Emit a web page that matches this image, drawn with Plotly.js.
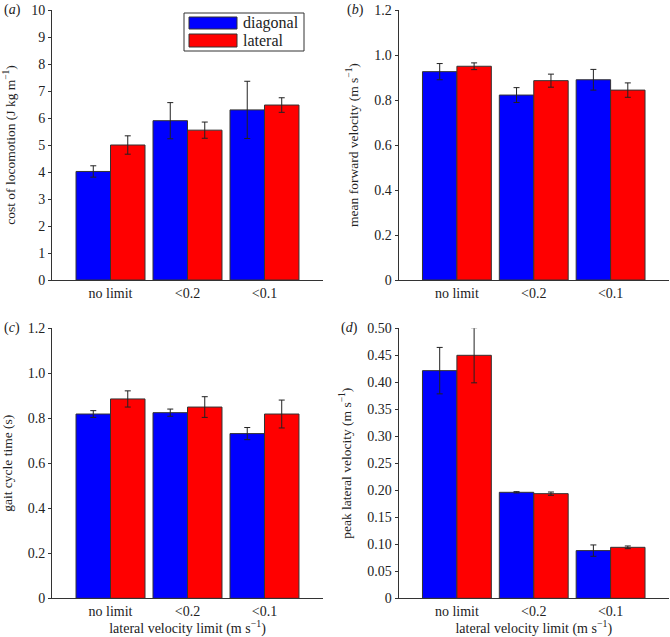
<!DOCTYPE html>
<html>
<head>
<meta charset="utf-8">
<script src="https://cdn.plot.ly/plotly-3.0.1.min.js"></script>
<style>html,body{margin:0;padding:0;background:#fff;}#chart{width:670px;height:637px;}</style>
</head>
<body>
<div id="chart"></div>
<script>
// ---- data ----
const categories = ['no limit', '<0.2', '<0.1'];
const seriesNames = ['diagonal', 'lateral'];

const costDiagonal = [4.02, 5.90, 6.30];
const costDiagonalErr = [0.21, 0.67, 1.06];
const costLateral = [5.00, 5.55, 6.48];
const costLateralErr = [0.34, 0.30, 0.27];

const velDiagonal = [0.926, 0.822, 0.890];
const velDiagonalErr = [0.036, 0.033, 0.046];
const velLateral = [0.950, 0.886, 0.844];
const velLateralErr = [0.015, 0.029, 0.032];

const gaitDiagonal = [0.819, 0.825, 0.732];
const gaitDiagonalErr = [0.015, 0.016, 0.027];
const gaitLateral = [0.886, 0.850, 0.819];
const gaitLateralErr = [0.036, 0.046, 0.062];

const peakDiagonal = [0.4216, 0.1963, 0.0883];
const peakDiagonalErr = [0.043, 0.0012, 0.0105];
const peakLateral = [0.450, 0.1938, 0.0944];
const peakLateralErr = [0.051, 0.003, 0.0025];

const ticksA = [0,1,2,3,4,5,6,7,8,9,10];
const ticksA_text = ['0','1','2','3','4','5','6','7','8','9','10'];
const ticksB = [0,0.2,0.4,0.6,0.8,1.0,1.2];
const ticksB_text = ['0','0.2','0.4','0.6','0.8','1.0','1.2'];
const ticksD = [0,0.05,0.10,0.15,0.20,0.25,0.30,0.35,0.40,0.45,0.50];
const ticksD_text = ['0','0.05','0.10','0.15','0.20','0.25','0.30','0.35','0.40','0.45','0.50'];

const yTitles = ['cost of locomotion (J kg m<sup>−1</sup>)', 'mean forward velocity (m s<sup>−1</sup>)',
                 'gait cycle time (s)', 'peak lateral velocity (m s<sup>−1</sup>)'];
const xTitle = 'lateral velocity limit (m s<sup>−1</sup>)';
const panelLabels = ['(<i>a</i>)', '(<i>b</i>)', '(<i>c</i>)', '(<i>d</i>)'];

// ---- styling ----
const BLUE = '#0000ff', RED = '#ff0000';
const FONT = "'Liberation Serif', 'Times New Roman', Times, serif";
const escape = s => s.replace(/</g, '&lt;');

function pair(diag, diagErr, lat, latErr, k) {
  const xa = k === 1 ? 'x' : 'x' + k, ya = k === 1 ? 'y' : 'y' + k;
  const mk = (name, y, e, c) => ({
    type: 'bar', name: name, x: categories, y: y, xaxis: xa, yaxis: ya,
    marker: {color: c, line: {color: '#333', width: 1}},
    error_y: {type: 'data', array: e, visible: true, color: '#222', thickness: 1, width: 3},
    showlegend: false, hoverinfo: 'y'
  });
  return [mk(seriesNames[0], diag, diagErr, BLUE), mk(seriesNames[1], lat, latErr, RED)];
}

const data = [].concat(
  pair(costDiagonal, costDiagonalErr, costLateral, costLateralErr, 1),
  pair(velDiagonal, velDiagonalErr, velLateral, velLateralErr, 2),
  pair(gaitDiagonal, gaitDiagonalErr, gaitLateral, gaitLateralErr, 3),
  pair(peakDiagonal, peakDiagonalErr, peakLateral, peakLateralErr, 4)
);

const W = 670, H = 637;
const colX = [[52/W, 323/W], [398.5/W, 669/W]];
const rowY = [[1 - 280/H, 1 - 10/H], [1 - 598.3/H, 1 - 328.3/H]];

function xaxis(col, anchor, withTitle) {
  const a = {
    domain: colX[col], anchor: anchor, type: 'category', range: [-0.76, 2.76],
    tickvals: categories, ticktext: categories.map(escape),
    showline: true, linecolor: '#333', linewidth: 1, ticks: '', showgrid: false, zeroline: false,
    tickfont: {family: FONT, size: 14, color: '#222'}, automargin: false
  };
  if (withTitle) a.title = {text: xTitle, font: {family: FONT, size: 14, color: '#222'}, standoff: 9};
  return a;
}
function yaxis(row, col, anchor, range, tv, tt, title) {
  return {
    domain: rowY[row], anchor: anchor, range: range, tickvals: tv, ticktext: tt,
    showline: true, linecolor: '#333', linewidth: 1, ticks: 'outside', ticklen: 3, tickcolor: '#333',
    showgrid: false, zeroline: false, automargin: false,
    tickfont: {family: FONT, size: 14, color: '#222'},
    title: {text: title, font: {family: FONT, size: 13.5, color: '#222'}, standoff: 12}
  };
}

const annotations = [];
const labelPos = [[12, 10], [355, 10], [12, 328], [349, 328]];
panelLabels.forEach((t, i) => annotations.push({
  xref: 'paper', yref: 'paper', x: labelPos[i][0] / W, y: 1 - labelPos[i][1] / H,
  text: t, showarrow: false, xanchor: 'center', yanchor: 'middle',
  font: {family: FONT, size: 14, color: '#222'}
}));

// legend (drawn manually to reproduce wide swatches)
const shapes = [
  {type: 'rect', xref: 'paper', yref: 'paper', x0: 184/W, x1: 304/W, y0: 1 - 51/H, y1: 1 - 13/H,
   line: {color: '#333', width: 1}, fillcolor: '#fff'},
  {type: 'rect', xref: 'paper', yref: 'paper', x0: 189/W, x1: 237/W, y0: 1 - 29/H, y1: 1 - 17/H,
   line: {color: '#333', width: 1}, fillcolor: BLUE},
  {type: 'rect', xref: 'paper', yref: 'paper', x0: 189/W, x1: 237/W, y0: 1 - 47/H, y1: 1 - 34/H,
   line: {color: '#333', width: 1}, fillcolor: RED}
];
annotations.push({xref: 'paper', yref: 'paper', x: 241/W, y: 1 - 23/H, text: seriesNames[0], showarrow: false,
  xanchor: 'left', yanchor: 'middle', font: {family: FONT, size: 16, color: '#222'}});
annotations.push({xref: 'paper', yref: 'paper', x: 241/W, y: 1 - 40.5/H, text: seriesNames[1], showarrow: false,
  xanchor: 'left', yanchor: 'middle', font: {family: FONT, size: 16, color: '#222'}});

const layout = {
  width: W, height: H, margin: {l: 0, r: 0, t: 0, b: 0},
  paper_bgcolor: '#fff', plot_bgcolor: '#fff', showlegend: false,
  barmode: 'group', bargap: 0.104, bargroupgap: 0,
  font: {family: FONT, color: '#222'},
  xaxis: xaxis(0, 'y', false),
  yaxis: yaxis(0, 0, 'x', [0, 10], ticksA, ticksA_text, yTitles[0]),
  xaxis2: xaxis(1, 'y2', false),
  yaxis2: yaxis(0, 1, 'x2', [0, 1.2], ticksB, ticksB_text, yTitles[1]),
  xaxis3: xaxis(0, 'y3', true),
  yaxis3: yaxis(1, 0, 'x3', [0, 1.2], ticksB, ticksB_text, yTitles[2]),
  xaxis4: xaxis(1, 'y4', true),
  yaxis4: yaxis(1, 1, 'x4', [0, 0.5], ticksD, ticksD_text, yTitles[3]),
  shapes: shapes, annotations: annotations
};

Plotly.newPlot('chart', data, layout, {displayModeBar: false, staticPlot: true});
</script>
</body>
</html>
